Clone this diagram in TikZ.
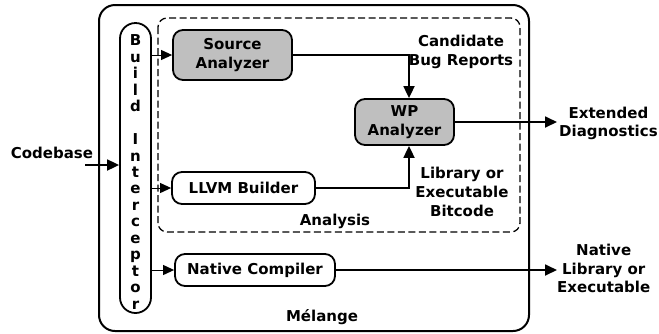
\documentclass[tikz,border=0pt]{standalone}
\usepackage{fontspec}
\setmainfont{DejaVu Sans}
\usetikzlibrary{arrows.meta}
\tikzset{
  lbl/.style={inner sep=0pt, align=center, font=\bfseries\fontsize{15}{18.6}\selectfont},
  stage/.style={draw, line width=1.8pt, rounded corners=10pt, inner sep=0pt, align=center,
                font=\bfseries\fontsize{15}{18.6}\selectfont},
  graystage/.style={stage, fill=black!25},
  flow/.style={line width=1.8pt, -{Triangle[length=12pt,width=11pt]}},
  feed/.style={line width=1pt, -{Triangle[length=11pt,width=10pt]}}
}
\begin{document}
\begin{tikzpicture}[x=1pt,y=-1pt]
\useasboundingbox (0,0) rectangle (659,333);
% Mélange container and the dashed analysis region
\draw[line width=2pt, rounded corners=16pt] (99,5) rectangle (529,331);
\draw[line width=1.3pt, dash pattern=on 7pt off 3.5pt, rounded corners=9pt] (158,18) rectangle (520,232);
% build interceptor with stacked letters
\node[draw, line width=1.8pt, rounded corners=15.5pt, minimum width=31pt, minimum height=290pt, inner sep=0pt]
  (bi) at (135.5,168) {};
\node[lbl, font=\bfseries\fontsize{15}{16.45}\selectfont] (bit) at (135.5,172)
  {B\\u\\i\\l\\d\\[16.45pt]I\\n\\t\\e\\r\\c\\e\\p\\t\\o\\r};
% stages
\node[graystage, minimum width=119pt, minimum height=50pt] (src) at (232.5,55) {Source\\Analyzer};
\node[graystage, minimum width=99pt, minimum height=46pt] (wp) at (404.5,122) {WP\\Analyzer};
\node[stage, minimum width=143pt, minimum height=32pt] (llvm) at (243.5,188) {LLVM Builder};
\node[stage, minimum width=160pt, minimum height=32pt] (nat) at (255,270) {Native Compiler};
% labels
\node[lbl] (code) at (52,153) {Codebase};
\node[lbl] (cand) at (461,52) {Candidate\\Bug Reports};
\node[lbl] (bitc) at (462,192) {Library or\\Executable\\Bitcode};
\node[lbl] (ana) at (335,221) {Analysis};
\node[lbl] (mel) at (322,317) {Mélange};
\node[lbl, anchor=west] (ext) at (559,123.5) {Extended\\Diagnostics};
\node[lbl, anchor=west] (natout) at (557,268.5) {Native\\Library or\\Executable};
% connectors
\coordinate (cbin) at (85,165);
\draw[flow] (cbin) -- (cbin -| bi.west);
\draw[feed] (bi.east |- src.west) -- (src.west);
\draw[feed] (bi.east |- llvm.west) -- (llvm.west);
\draw[feed] (bi.east |- nat.west) -- (nat.west);
\draw[flow] (src.east) -| ([xshift=4.5pt]wp.north);
\draw[flow] (llvm.east) -| ([xshift=4.5pt]wp.south);
\draw[flow] (wp.east) -- (wp.east -| natout.west);
\draw[flow] (nat.east) -- (nat.east -| natout.west);
\end{tikzpicture}
\end{document}
